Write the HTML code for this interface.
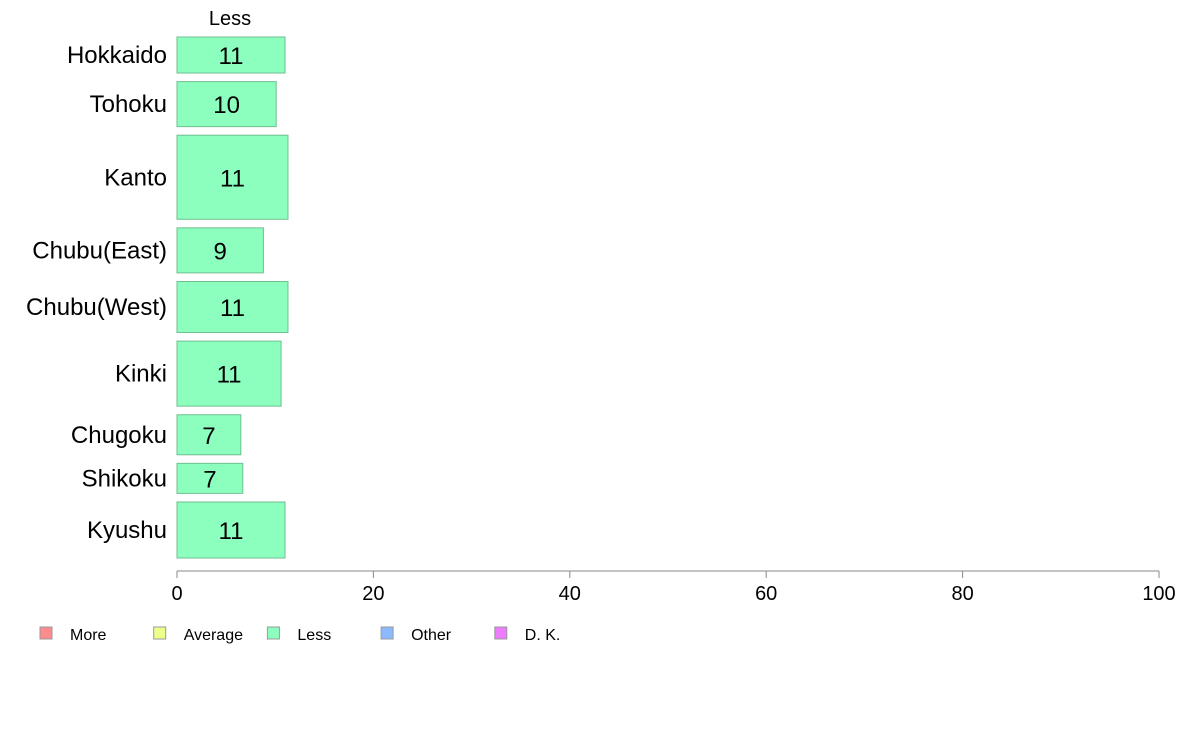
<!DOCTYPE html>
<html><head><meta charset="utf-8"><style>
body{margin:0;background:#fff;}
svg text{font-family:"Liberation Sans",sans-serif;}
</style></head><body>
<svg id="chart" width="1188" height="736"></svg>
<script>
const regions=["Hokkaido","Tohoku","Kanto","Chubu(East)","Chubu(West)","Kinki","Chugoku","Shikoku","Kyushu"];
const lessValues=[11.0,10.1,11.3,8.8,11.3,10.6,6.5,6.7,11.0];
const sampleSizes=[36,45,84,45,51,65,40,30,56];
const xTicks=[0,20,40,60,80,100];
const legendLabels=["More","Average","Less","Other","D. K."];
const legendColors=["#ff8c8c","#eeff8c","#8cffbf","#8cb8ff","#ee7cff"];

const NS="http://www.w3.org/2000/svg";
const svg=document.getElementById('chart');
function mk(t,a,p){const e=document.createElementNS(NS,t);for(const k in a)e.setAttribute(k,a[k]);(p||svg).appendChild(e);return e;}
const x0=177,x1=1159;
const xs=v=>x0+(x1-x0)*v/100;
const plotTop=37,plotBottom=558,gap=8.6;
const total=sampleSizes.reduce((a,b)=>a+b,0);
const scaleH=(plotBottom-plotTop-gap*(regions.length-1))/total;

let yPos=plotTop;
regions.forEach((r,i)=>{
  const h=sampleSizes[i]*scaleH;
  const b=mk('rect',{x:x0,y:yPos,width:xs(lessValues[i])-x0,height:h,fill:'#8cffbf',stroke:'#6fbf8f','stroke-width':1});
  
  
  const v=mk('text',{x:(x0+xs(lessValues[i]))/2,y:yPos+h/2+9,'text-anchor':'middle','font-size':24,fill:'#000'});
  v.textContent=Math.round(lessValues[i]);
  
  
  const l=mk('text',{x:167,y:yPos+h/2+8,'text-anchor':'end','font-size':24,fill:'#000'});
  l.textContent=r;
  
  
  yPos+=h+gap;
});
const hdr=mk('text',{x:230,y:25,'text-anchor':'middle','font-size':20});
hdr.textContent="Less";



const ax=mk('line',{x1:x0,y1:571,x2:x1,y2:571,stroke:'#888','stroke-width':1});


xTicks.forEach(t=>{
  const tk=mk('line',{x1:xs(t),y1:571,x2:xs(t),y2:578,stroke:'#888'});
  
  
  const tl=mk('text',{x:xs(t),y:600,'text-anchor':'middle','font-size':20});
  tl.textContent=t;
  
  
});
legendLabels.forEach((lab,i)=>{
  const lx=40+i*113.7;
  const g=mk('g',{});
  
  
  mk('rect',{x:lx,y:627,width:12,height:12,fill:legendColors[i],stroke:'#999','stroke-width':1},g);
  const t=mk('text',{x:lx+30,y:640,'font-size':16},g);
  t.textContent=lab;
});
</script>
</body></html>
